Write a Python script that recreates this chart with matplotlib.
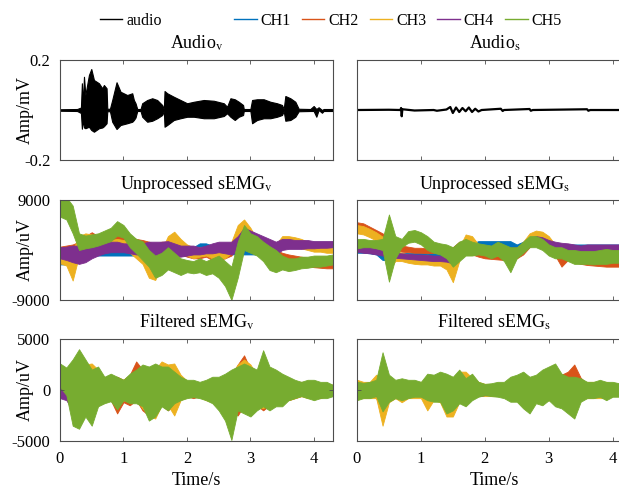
import numpy as np
import matplotlib.pyplot as plt
from matplotlib.lines import Line2D

plt.rcParams['font.family'] = ['Liberation Serif', 'DejaVu Serif']
plt.rcParams['mathtext.fontset'] = 'stix'

channels = ["CH1", "CH2", "CH3", "CH4", "CH5"]
ch_colors = ["#0072BD", "#D95319", "#EDB120", "#7E2F8E", "#77AC30"]

# audio envelopes (time in s, amplitude in mV)
audio_v_t = [0.0, 0.27, 0.33, 0.345, 0.36, 0.378, 0.40, 0.456, 0.493, 0.535,
             0.614, 0.666, 0.692, 0.734, 0.745, 0.787, 0.823, 0.891, 0.954, 1.059,
             1.138, 1.164, 1.19, 1.217, 1.269, 1.295, 1.374, 1.453, 1.531, 1.61,
             1.636, 1.647, 1.689, 1.793, 1.898, 2.003, 2.108, 2.265, 2.423, 2.58,
             2.632, 2.685, 2.753, 2.816, 2.884, 2.895, 2.999, 3.026, 3.104, 3.209,
             3.314, 3.419, 3.498, 3.524, 3.55, 3.629, 3.707, 3.76, 3.943, 3.996,
             4.038, 4.074, 4.127, 4.153, 4.3]
audio_v_up = [0.003, 0.004, 0.01, 0.107, 0.02, 0.133, 0.06, 0.14, 0.164, 0.12,
              0.107, 0.087, 0.10, 0.087, 0.005, 0.005, 0.04, 0.111, 0.073, 0.06,
              0.067, 0.04, 0.027, 0.004, 0.004, 0.027, 0.04, 0.047, 0.04, 0.02,
              0.004, 0.076, 0.067, 0.053, 0.04, 0.027, 0.033, 0.04, 0.037, 0.027,
              0.013, 0.047, 0.043, 0.033, 0.02, 0.004, 0.004, 0.04, 0.043, 0.043,
              0.033, 0.027, 0.02, 0.004, 0.056, 0.047, 0.033, 0.005, 0.004, 0.016,
              0.004, 0.011, 0.0, 0.004, 0.004]
audio_v_lo = [-0.003, -0.004, -0.012, -0.075, -0.04, -0.07, -0.073, -0.067, -0.08, -0.087,
              -0.073, -0.07, -0.065, -0.053, -0.005, -0.005, -0.047, -0.076, -0.06, -0.053,
              -0.047, -0.04, -0.03, -0.004, -0.004, -0.027, -0.047, -0.043, -0.033, -0.02,
              -0.004, -0.067, -0.06, -0.04, -0.033, -0.027, -0.027, -0.033, -0.033, -0.024,
              -0.013, -0.027, -0.04, -0.027, -0.02, -0.004, -0.004, -0.053, -0.04, -0.033,
              -0.033, -0.027, -0.02, -0.004, -0.043, -0.04, -0.027, -0.005, -0.004, -0.004,
              -0.027, 0.0, -0.011, -0.004, -0.004]

audio_s_t = [0.0, 0.5, 0.68, 0.69, 0.70, 0.71, 0.9, 1.2, 1.25, 1.4,
             1.46, 1.5, 1.55, 1.6, 1.65, 1.7, 1.75, 1.8, 1.85, 1.9,
             1.95, 2.25, 2.28, 2.3, 2.7, 2.72, 2.75, 3.6, 3.62, 3.65, 4.3]
audio_s_amp = [0.0, 0.001, 0.0, 0.008, -0.025, 0.003, -0.002, 0.0, -0.003, 0.002,
               0.012, -0.012, 0.01, -0.008, 0.008, -0.005, 0.01, -0.008, 0.005, -0.006,
               0.0, 0.005, -0.004, 0.0, 0.004, -0.003, 0.0, 0.003, -0.003, 0.0, 0.0]

# sEMG band edges, sampled every 0.1 s (values in kuV)
t_emg = [0.0, 0.1, 0.2, 0.3, 0.4, 0.5, 0.6, 0.7, 0.8, 0.9,
         1.0, 1.1, 1.2, 1.3, 1.4, 1.5, 1.6, 1.7, 1.8, 1.9,
         2.0, 2.1, 2.2, 2.3, 2.4, 2.5, 2.6, 2.7, 2.8, 2.9,
         3.0, 3.1, 3.2, 3.3, 3.4, 3.5, 3.6, 3.7, 3.8, 3.9,
         4.0, 4.1, 4.2, 4.3]

# unprocessed, vocal
raw_v1_up = [-2.0, -1.8, -1.0, 0.0, 0.5, 0.5, 0.5, 0.5, 0.5, 0.5,
             0.5, 0.5, 0.5, 0.5, 0.5, 0.5, 0.5, 0.5, 0.5, 0.5,
             0.5, 0.5, 1.2, 1.2, 0.8, 0.5, 0.5, 0.5, 0.5, 0.5,
             0.5, 0.5, 0.5, 0.5, 0.5, 1.5, 1.5, 1.5, 1.5, 1.5,
             1.5, 1.5, 1.5, 1.5]
raw_v1_lo = [-2.6, -2.6, -2.5, -2.0, -1.0, -1.0, -1.0, -1.0, -1.0, -1.0,
             -1.0, -1.0, -1.0, -1.0, -1.0, -1.0, -1.0, -1.0, -1.0, -1.0,
             -1.0, -0.5, 0.3, 0.4, -0.3, -0.8, -0.8, -0.8, -0.8, -0.8,
             -0.8, -0.8, -0.8, -0.8, -0.8, 0.5, 0.5, 0.5, 0.5, 0.5,
             0.5, 0.5, 0.5, 0.5]
raw_v2_up = [0.6, 0.8, 1.0, 1.5, 2.5, 3.2, 2.5, 2.0, 2.5, 3.0,
             2.8, 2.5, 2.0, 1.8, 1.5, 1.0, 1.5, 1.5, 1.0, 0.5,
             0.0, -0.2, -0.2, 0.0, -0.3, -0.3, 0.0, 1.0, 3.5, 4.5,
             3.5, 2.0, 0.5, 0.2, 0.0, -0.5, -0.8, -1.0, -1.2, -1.4,
             -1.6, -1.8, -1.9, -2.0]
raw_v2_lo = [-0.4, -0.2, -0.5, 0.0, 0.5, 1.0, 0.5, 0.5, 0.8, 1.0,
             1.0, 0.8, 0.5, 0.0, -0.5, -0.5, 0.0, 0.0, -0.5, -0.8,
             -1.2, -1.5, -1.5, -1.2, -1.8, -1.8, -1.5, -1.0, 1.0, 2.0,
             1.0, -0.5, -1.0, -1.5, -1.5, -2.0, -2.3, -2.5, -2.7, -2.9,
             -3.1, -3.2, -3.3, -3.3]
raw_v3_up = [-1.2, -1.0, 0.0, 2.5, 3.0, 2.8, 2.2, 2.0, 1.8, 2.0,
             1.8, 1.5, 1.0, 0.5, -1.5, -2.0, 0.0, 2.5, 3.3, 2.0,
             1.0, 0.5, 0.5, 0.5, 0.0, 0.3, 0.5, 1.5, 4.5, 5.5,
             4.0, 2.0, 1.5, 1.5, 1.0, 2.5, 2.5, 2.3, 2.0, 1.5,
             1.0, 0.8, 0.5, 0.4]
raw_v3_lo = [-2.4, -2.8, -5.5, -1.0, 0.5, 0.5, 0.0, 0.0, 0.0, 0.0,
             0.0, -0.5, -1.5, -2.5, -5.0, -5.4, -3.0, -0.5, 1.0, -0.5,
             -1.0, -1.5, -1.2, -1.0, -1.5, -1.5, -1.5, -0.5, 1.0, 2.5,
             1.0, 0.0, -0.5, -0.8, -0.8, 0.5, 0.8, 0.6, 0.3, 0.0,
             -0.3, -0.3, -0.5, -0.5]
raw_v4_up = [0.5, 0.6, 0.8, 0.8, 0.8, 1.0, 1.2, 1.5, 1.5, 1.5,
             1.2, 1.2, 1.0, 1.2, 1.5, 1.5, 1.5, 1.6, 1.2, 0.8,
             0.8, 0.8, 0.5, 0.8, 1.2, 1.5, 1.5, 1.5, 2.5, 4.0,
             3.5, 3.0, 2.5, 2.0, 1.5, 2.0, 2.0, 1.8, 1.8, 1.8,
             1.6, 1.6, 1.6, 1.6]
raw_v4_lo = [-1.5, -1.8, -2.2, -2.5, -2.2, -1.5, -1.0, -0.6, -0.4, -0.4,
             -0.4, -0.6, -0.8, -0.8, -1.0, -1.5, -1.2, -1.0, -1.2, -1.2,
             -1.0, -0.8, -0.8, -0.6, -0.6, -0.4, -0.6, -0.8, -0.3, 0.5,
             0.0, -0.5, -1.2, -1.5, -0.8, 0.0, 0.2, 0.2, 0.2, 0.3,
             0.3, 0.4, 0.4, 0.5]
raw_v5_up = [9.5, 9.5, 8.0, 3.0, 2.6, 2.8, 3.0, 3.5, 4.0, 5.2,
             4.5, 3.0, 2.0, 1.6, 0.0, -1.0, -0.5, 0.5, -0.5, -1.5,
             -1.8, -2.0, -1.5, -2.0, -1.5, -1.0, -2.0, -3.0, 1.5, 4.5,
             3.0, 2.5, 1.5, 0.7, 0.0, -1.0, -1.5, -1.5, -1.2, -1.2,
             -1.0, -1.0, -1.0, -0.8]
raw_v5_lo = [6.0, 5.5, 3.0, 0.0, 0.3, 0.5, 0.8, 1.2, 1.6, 2.6,
             2.2, 0.5, -0.6, -1.8, -3.0, -5.0, -4.5, -3.5, -4.0, -4.5,
             -4.0, -4.2, -4.0, -4.5, -4.2, -5.0, -6.5, -9.0, -5.0, 0.0,
             -0.5, -1.0, -2.0, -3.6, -4.0, -3.5, -3.8, -3.6, -3.3, -3.2,
             -3.0, -3.0, -2.8, -2.6]

# unprocessed, silent
raw_s1_up = [0.3, 0.3, 0.2, 0.0, -0.5, -0.5, -0.5, -0.5, -0.5, -0.5,
             -0.5, -0.5, -0.5, -0.5, -1.0, -1.5, 0.0, 1.0, 1.2, 1.6,
             1.6, 1.6, 1.6, 1.6, 1.6, 1.0, 1.5, 2.5, 2.8, 2.5,
             1.5, 1.0, 1.0, 1.0, 1.0, 1.0, 1.0, 1.0, 1.0, 1.0,
             1.0, 1.0, 1.0, 1.0]
raw_s1_lo = [-0.5, -0.5, -0.6, -0.8, -1.8, -1.8, -1.8, -1.8, -1.8, -1.8,
             -1.8, -1.8, -1.8, -1.8, -2.5, -4.0, -1.5, -0.5, 0.0, 0.4,
             0.4, 0.4, 0.4, 0.4, 0.4, 0.0, 0.0, 1.0, 1.2, 1.0,
             0.0, -0.5, -0.3, -0.3, -0.3, -0.3, -0.3, -0.3, -0.3, -0.3,
             -0.3, -0.3, -0.3, -0.3]
raw_s2_up = [5.0, 4.8, 4.2, 3.6, 3.0, 2.2, 1.2, 0.8, 0.6, 0.4,
             0.4, 0.3, 0.4, 0.4, 0.2, 0.5, 1.5, 1.5, 0.5, -0.3,
             -0.5, -0.6, -0.7, -0.8, -0.8, -0.5, 0.5, 2.0, 2.5, 2.5,
             1.5, 0.2, -0.5, -0.8, -1.2, -1.5, -1.6, -1.7, -1.8, -1.8,
             -1.8, -1.8, -1.8, -1.8]
raw_s2_lo = [3.5, 3.2, 2.8, 2.2, 1.6, 0.8, 0.0, -0.3, -0.4, -0.5,
             -0.5, -0.6, -0.5, -0.5, -0.8, -1.5, 0.0, 0.0, -0.8, -1.2,
             -1.5, -1.6, -1.7, -1.8, -1.9, -1.5, -0.8, 0.5, 1.2, 1.0,
             0.0, -1.0, -3.0, -1.8, -2.2, -2.5, -2.7, -2.8, -2.9, -3.0,
             -3.0, -3.0, -3.0, -3.0]
raw_s3_up = [4.5, 4.3, 3.8, 3.2, 2.4, 1.0, 0.0, -0.5, -0.8, -1.0,
             -1.0, -1.0, -1.2, -1.2, -1.5, -3.0, 0.5, 2.8, 2.5, 1.0,
             0.5, 0.3, 0.3, 0.2, 0.0, 0.2, 1.5, 3.0, 3.5, 3.3,
             2.5, 1.0, 0.5, 0.0, -0.3, -0.5, -0.5, -0.6, -0.6, -0.5,
             -0.3, -0.3, -0.3, -0.3]
raw_s3_lo = [3.0, 2.8, 2.3, 1.7, 0.8, -3.5, -2.0, -2.0, -2.3, -2.5,
             -2.6, -2.6, -2.8, -2.8, -3.5, -5.8, -2.0, 1.2, 1.0, -0.5,
             -0.8, -1.0, -1.0, -1.0, -1.2, -1.0, 0.0, 1.5, 2.2, 2.0,
             1.0, -0.5, -1.0, -1.3, -1.6, -1.8, -1.8, -1.9, -2.0, -1.8,
             -1.6, -1.5, -1.5, -1.5]
raw_s4_up = [1.0, 0.9, 0.6, 0.3, 0.0, -0.3, -0.5, -0.6, -0.7, -0.8,
             -0.8, -0.9, -1.0, -1.0, -1.0, -1.2, -0.2, 0.5, 0.6, 0.8,
             0.8, 0.7, 0.7, 0.6, 0.4, 0.5, 1.2, 2.2, 2.5, 2.3,
             1.8, 1.5, 1.3, 1.2, 1.0, 0.8, 1.0, 1.0, 1.0, 1.0,
             1.0, 1.0, 1.0, 1.0]
raw_s4_lo = [-0.3, -0.5, -0.6, -0.8, -1.0, -1.6, -1.4, -1.5, -1.6, -1.7,
             -1.8, -1.9, -2.0, -2.0, -2.1, -2.4, -1.5, -0.8, -0.5, -0.3,
             -0.2, -0.3, -0.4, -0.5, -0.6, -0.5, 0.2, 0.8, 1.0, 0.8,
             0.4, 0.0, -0.2, -0.3, -0.5, -0.5, -0.3, -0.3, -0.3, -0.3,
             -0.3, -0.3, -0.3, -0.3]
raw_s5_up = [2.0, 2.0, 1.8, 1.8, 2.0, 6.4, 2.5, 2.0, 3.4, 3.6,
             3.2, 2.5, 1.5, 1.2, 1.0, 0.5, 1.5, 2.0, 1.5, 1.2,
             1.0, 0.8, 1.5, 1.0, 0.5, 0.5, 1.5, 2.5, 2.5, 2.0,
             1.0, 0.5, 0.5, 0.0, 0.0, -0.2, -0.2, -0.2, 0.0, 0.2,
             0.0, 0.0, 0.0, 0.0]
raw_s5_lo = [0.3, 0.5, 0.5, 0.3, 0.0, -5.7, -1.5, 0.5, 1.3, 1.5,
             1.0, 0.0, -0.5, -0.8, -1.5, -3.0, -2.0, -1.0, -1.0, -0.8,
             -1.0, -1.5, -1.0, -2.0, -4.0, -1.5, -0.5, 0.5, 0.5, 0.0,
             -1.0, -1.5, -1.5, -2.0, -2.5, -2.5, -2.5, -2.6, -2.5, -2.5,
             -2.3, -2.3, -2.3, -2.3]

# filtered, vocal
flt_v1_up = [0.2, 0.3, 0.4, 0.4, 0.4, 0.4, 0.4, 0.4, 0.4, 0.4,
             0.4, 0.4, 0.4, 0.4, 0.4, 0.4, 0.4, 0.4, 0.4, 0.4,
             0.4, 0.4, 0.4, 0.4, 0.4, 0.4, 0.4, 0.4, 0.4, 0.4,
             0.4, 0.4, 0.4, 0.4, 0.4, 0.4, 0.4, 0.4, 0.4, 0.4,
             0.4, 0.4, 0.4, 0.4]
flt_v1_lo = [-0.6, -0.6, -0.5, -0.5, -0.5, -0.5, -0.5, -0.5, -0.5, -0.5,
             -0.5, -0.5, -0.5, -0.5, -0.5, -0.5, -0.5, -0.5, -0.5, -0.5,
             -0.5, -0.5, -0.5, -0.5, -0.5, -0.5, -0.5, -0.5, -0.5, -0.5,
             -0.5, -0.5, -0.5, -0.5, -0.5, -0.5, -0.5, -0.5, -0.5, -0.5,
             -0.5, -0.5, -0.5, -0.5]
flt_v2_up = [0.8, 1.0, 1.5, 3.0, 2.0, 1.5, 1.5, 1.0, 1.2, 1.3,
             1.0, 1.5, 2.8, 2.0, 1.5, 2.5, 2.0, 1.8, 1.5, 1.0,
             0.8, 0.8, 0.6, 0.8, 1.0, 1.0, 1.2, 1.5, 2.5, 3.4,
             2.0, 1.5, 2.0, 2.0, 1.5, 1.3, 1.0, 0.8, 0.8, 0.8,
             0.8, 0.6, 0.6, 0.5]
flt_v2_lo = [-0.6, -0.8, -2.0, -3.5, -2.0, -2.5, -1.5, -1.2, -1.0, -2.3,
             -1.2, -1.5, -1.0, -2.0, -2.5, -2.0, -1.5, -2.0, -1.5, -0.8,
             -0.6, -0.8, -0.6, -0.8, -1.0, -1.5, -2.0, -2.0, -2.5, -1.5,
             -2.0, -1.5, -2.0, -1.5, -1.5, -1.0, -1.0, -0.8, -0.6, -0.6,
             -0.8, -0.8, -0.6, -0.5]
flt_v3_up = [1.0, 1.0, 2.0, 2.5, 2.5, 2.6, 2.0, 1.2, 1.5, 1.2,
             1.0, 1.5, 1.8, 2.0, 1.8, 2.0, 2.8, 2.5, 2.6, 1.5,
             0.9, 0.8, 0.7, 0.8, 1.0, 1.0, 1.2, 1.5, 2.5, 3.0,
             2.5, 1.5, 2.0, 1.8, 1.3, 1.5, 1.0, 0.8, 0.7, 0.8,
             0.8, 0.7, 0.6, 0.5]
flt_v3_lo = [-0.5, -0.8, -1.5, -2.5, -1.5, -2.0, -1.5, -1.0, -1.0, -1.5,
             -1.0, -1.2, -1.0, -1.8, -2.5, -2.8, -1.5, -1.5, -2.5, -1.0,
             -0.7, -0.6, -0.7, -1.0, -1.2, -1.2, -1.5, -1.5, -1.5, -2.0,
             -1.5, -1.5, -1.8, -1.2, -1.0, -0.8, -1.0, -0.8, -0.6, -0.8,
             -0.8, -0.6, -0.6, -0.5]
flt_v4_up = [0.2, 0.5, 0.5, 1.2, 1.5, 1.0, 0.8, 0.6, 0.8, 0.8,
             0.6, 0.8, 1.0, 1.2, 1.0, 1.2, 1.5, 1.0, 0.8, 0.6,
             0.5, 0.5, 0.5, 0.6, 0.8, 0.8, 1.0, 1.0, 1.2, 1.5,
             1.0, 1.0, 1.0, 0.8, 0.8, 0.8, 0.6, 0.5, 0.5, 0.5,
             0.5, 0.5, 0.5, 0.5]
flt_v4_lo = [-0.8, -1.0, -2.0, -1.5, -1.0, -1.8, -1.0, -0.6, -0.6, -1.0,
             -0.6, -0.8, -0.8, -1.0, -1.2, -1.2, -1.0, -1.0, -0.8, -0.6,
             -0.5, -0.5, -0.5, -0.6, -1.0, -1.0, -1.2, -1.2, -1.0, -1.0,
             -1.5, -1.0, -1.0, -1.0, -0.8, -0.8, -0.6, -0.5, -0.5, -0.5,
             -0.5, -0.5, -0.5, -0.5]
flt_v5_up = [2.6, 2.2, 3.0, 4.0, 3.0, 2.0, 2.3, 1.3, 1.6, 1.3,
             1.0, 1.6, 2.0, 2.5, 2.3, 2.6, 2.3, 2.3, 1.8, 1.3,
             1.0, 1.0, 0.8, 1.0, 1.3, 1.3, 1.6, 2.0, 2.3, 2.6,
             2.3, 2.0, 3.9, 2.3, 2.0, 1.6, 1.3, 1.0, 0.8, 1.0,
             1.0, 0.8, 0.8, 0.5]
flt_v5_lo = [0.3, -0.5, -3.5, -3.8, -2.6, -3.5, -1.6, -1.3, -1.1, -1.9,
             -1.0, -1.3, -1.3, -1.6, -3.0, -2.6, -1.6, -2.0, -1.3, -1.0,
             -0.8, -0.7, -0.8, -1.0, -1.3, -2.0, -3.0, -4.9, -2.0, -2.3,
             -2.6, -2.0, -1.6, -2.0, -1.6, -1.6, -1.0, -0.8, -0.6, -0.8,
             -1.0, -0.8, -0.8, -0.6]

# filtered, silent
flt_s1_up = [0.4, 0.4, 0.4, 0.4, 0.4, 0.4, 0.4, 0.4, 0.4, 0.4,
             0.4, 0.4, 0.4, 0.4, 0.4, 0.4, 0.4, 0.4, 0.4, 0.4,
             0.4, 0.4, 0.4, 0.4, 0.4, 0.4, 0.4, 0.4, 0.4, 0.4,
             0.4, 0.4, 0.4, 0.4, 0.4, 0.4, 0.4, 0.4, 0.4, 0.4,
             0.4, 0.4, 0.4, 0.4]
flt_s1_lo = [-0.5, -0.5, -0.5, -0.5, -2.3, -0.5, -0.5, -0.5, -0.5, -0.5,
             -0.5, -0.5, -0.5, -0.5, -0.5, -0.9, -0.5, -0.5, -0.5, -0.5,
             -0.5, -0.5, -0.5, -0.5, -0.5, -0.5, -0.5, -0.5, -0.5, -0.5,
             -0.5, -0.5, -0.5, -0.5, -0.5, -0.5, -0.5, -0.5, -0.5, -0.5,
             -0.5, -0.5, -0.5, -0.5]
flt_s2_up = [0.6, 0.6, 0.6, 0.8, 1.0, 0.8, 0.6, 0.6, 0.6, 0.6,
             0.6, 0.8, 0.8, 0.8, 1.0, 1.0, 1.0, 0.8, 0.8, 0.6,
             0.5, 0.5, 0.5, 0.6, 0.8, 0.8, 1.0, 1.0, 1.0, 1.2,
             1.2, 1.5, 1.5, 1.8, 2.5, 1.2, 0.6, 0.6, 0.6, 0.6,
             0.6, 0.6, 0.6, 0.6]
flt_s2_lo = [-0.6, -0.6, -0.6, -0.8, -2.3, -0.8, -0.6, -0.6, -0.6, -0.6,
             -0.6, -0.8, -0.8, -0.8, -1.0, -1.0, -0.8, -0.8, -0.6, -0.6,
             -0.5, -0.5, -0.5, -0.6, -0.8, -0.8, -1.0, -1.2, -1.0, -1.0,
             -1.0, -1.2, -1.2, -1.5, -2.0, -0.8, -0.6, -0.6, -0.6, -0.6,
             -0.6, -0.6, -0.6, -0.6]
flt_s3_up = [1.0, 0.8, 0.8, 1.5, 1.0, 0.8, 0.8, 0.8, 0.8, 0.8,
             0.8, 1.0, 1.3, 1.2, 1.5, 1.2, 1.8, 1.8, 1.2, 0.8,
             0.6, 0.6, 0.6, 0.6, 0.8, 1.0, 1.2, 1.0, 1.0, 1.0,
             1.2, 1.2, 1.0, 1.0, 1.0, 0.8, 0.8, 0.8, 0.8, 0.8,
             0.6, 0.6, 0.6, 0.6]
flt_s3_lo = [-0.6, -0.8, -0.8, -0.8, -3.5, -1.2, -0.8, -1.2, -0.8, -0.8,
             -0.8, -2.0, -1.0, -1.2, -2.6, -2.6, -1.2, -1.0, -0.8, -0.6,
             -0.6, -0.6, -0.6, -0.6, -0.8, -0.8, -1.0, -1.2, -1.0, -1.0,
             -1.0, -1.0, -1.0, -1.2, -1.2, -0.8, -0.8, -0.8, -0.8, -0.8,
             -0.6, -0.6, -0.6, -0.6]
flt_s4_up = [0.6, 0.6, 0.6, 0.6, 0.8, 0.6, 0.6, 0.6, 0.6, 0.6,
             0.6, 0.8, 0.8, 0.8, 0.8, 0.8, 0.8, 0.8, 0.6, 0.6,
             0.5, 0.5, 0.5, 0.6, 0.8, 0.8, 1.0, 1.0, 0.8, 0.8,
             0.8, 0.8, 0.8, 1.0, 1.0, 0.8, 0.6, 0.6, 0.6, 0.6,
             0.6, 0.6, 0.6, 0.6]
flt_s4_lo = [-0.6, -0.6, -0.6, -0.6, -1.0, -0.8, -0.6, -0.6, -0.6, -0.6,
             -0.6, -0.8, -0.8, -0.8, -1.0, -0.8, -0.8, -0.8, -0.6, -0.6,
             -0.5, -0.5, -0.5, -0.6, -0.8, -0.8, -1.2, -1.2, -0.8, -0.8,
             -0.8, -1.0, -1.0, -1.5, -2.3, -0.8, -0.6, -0.6, -0.6, -0.6,
             -0.6, -0.6, -0.6, -0.6]
flt_s5_up = [0.8, 0.7, 0.8, 1.0, 3.7, 1.5, 1.0, 1.15, 1.0, 1.0,
             0.8, 1.6, 1.5, 1.8, 1.6, 1.3, 2.0, 1.15, 1.6, 0.8,
             0.6, 0.66, 0.8, 0.8, 1.3, 1.5, 1.8, 1.3, 1.5, 2.0,
             2.3, 2.6, 1.6, 1.3, 1.3, 1.15, 0.8, 0.8, 1.0, 0.8,
             0.8, 0.66, 0.66, 0.66]
flt_s5_lo = [-1.0, -0.8, -0.8, -0.6, -2.1, -1.15, -0.8, -1.0, -0.8, -0.66,
             -0.66, -1.0, -1.15, -1.15, -2.3, -2.0, -1.3, -1.6, -1.0, -0.66,
             -0.5, -0.6, -0.66, -0.8, -1.15, -1.15, -1.8, -2.3, -1.3, -1.5,
             -1.0, -1.6, -1.8, -2.3, -2.8, -1.15, -0.8, -0.8, -0.66, -1.0,
             -0.66, -0.66, -0.66, -0.66]

raw_v = [(raw_v1_up, raw_v1_lo), (raw_v2_up, raw_v2_lo), (raw_v3_up, raw_v3_lo),
         (raw_v4_up, raw_v4_lo), (raw_v5_up, raw_v5_lo)]
raw_s = [(raw_s1_up, raw_s1_lo), (raw_s2_up, raw_s2_lo), (raw_s3_up, raw_s3_lo),
         (raw_s4_up, raw_s4_lo), (raw_s5_up, raw_s5_lo)]
flt_v = [(flt_v1_up, flt_v1_lo), (flt_v2_up, flt_v2_lo), (flt_v3_up, flt_v3_lo),
         (flt_v4_up, flt_v4_lo), (flt_v5_up, flt_v5_lo)]
flt_s = [(flt_s1_up, flt_s1_lo), (flt_s2_up, flt_s2_lo), (flt_s3_up, flt_s3_lo),
         (flt_s4_up, flt_s4_lo), (flt_s5_up, flt_s5_lo)]

fig = plt.figure(figsize=(6.19, 4.90), dpi=100)

col_x = [0.0969, 0.5767]
col_w = [0.441, 0.444]
row_y = [0.6735, 0.3878, 0.1]
row_h = [0.204, 0.204, 0.2082]

axes = [[fig.add_axes([col_x[c], row_y[r], col_w[c], row_h[r]]) for c in range(2)]
        for r in range(3)]


def draw_bands(ax, bands):
    # each channel drawn as the band between its read upper and lower edge
    for (up, lo), color in zip(bands, ch_colors):
        ax.fill_between(t_emg, np.array(lo) * 1000, np.array(up) * 1000,
                        color=color, lw=0.6)


# audio row
axes[0][0].fill_between(audio_v_t, audio_v_lo, audio_v_up, color='black', lw=0.8)
axes[0][1].plot(audio_s_t, audio_s_amp, color='black', lw=1.6)

draw_bands(axes[1][0], raw_v)
draw_bands(axes[1][1], raw_s)
draw_bands(axes[2][0], flt_v)
draw_bands(axes[2][1], flt_s)

titles = [["Audio$_\\mathrm{v}$", "Audio$_\\mathrm{s}$"],
          ["Unprocessed sEMG$_\\mathrm{v}$", "Unprocessed sEMG$_\\mathrm{s}$"],
          ["Filtered sEMG$_\\mathrm{v}$", "Filtered sEMG$_\\mathrm{s}$"]]
ylims = [(-0.2, 0.2), (-9000, 9000), (-5000, 5000)]
yticks = [[-0.2, 0.2], [-9000, 9000], [-5000, 0, 5000]]
yticklabels = [["-0.2", "0.2"], ["-9000", "9000"], ["-5000", "0", "5000"]]
ylabels = ["Amp/mV", "Amp/uV", "Amp/uV"]

for r in range(3):
    for c in range(2):
        ax = axes[r][c]
        ax.set_xlim(0, 4.3)
        ax.set_ylim(*ylims[r])
        ax.set_xticks([0, 1, 2, 3, 4])
        ax.set_yticks(yticks[r])
        ax.set_title(titles[r][c], fontsize=13, pad=8)
        ax.tick_params(direction='in', length=3, width=0.6, color='0.3',
                       labelsize=12, top=True, right=True, pad=7)
        for sp in ax.spines.values():
            sp.set_color('0.3')
            sp.set_linewidth(0.8)
        if c == 0:
            ax.set_yticklabels(yticklabels[r])
            ax.set_ylabel(ylabels[r], fontsize=13)
            ax.yaxis.set_label_coords(-0.095, 0.5)
        else:
            ax.set_yticklabels([])
        if r == 2:
            ax.set_xlabel("Time/s", fontsize=13, labelpad=4)
        else:
            ax.set_xticklabels([])

# legends
audio_handle = [Line2D([], [], color='black', lw=1.0)]
fig.legend(audio_handle, ["audio"], loc='center', bbox_to_anchor=(0.211, 0.958),
           frameon=False, fontsize=11.5, handlelength=1.4, handletextpad=0.25)
ch_handles = [Line2D([], [], color=col, lw=1.0) for col in ch_colors]
fig.legend(ch_handles, channels, loc='center', bbox_to_anchor=(0.643, 0.958),
           ncol=5, frameon=False, fontsize=11.5, handlelength=1.4,
           handletextpad=0.25, columnspacing=0.7)

fig.savefig("out.png", dpi=100)
